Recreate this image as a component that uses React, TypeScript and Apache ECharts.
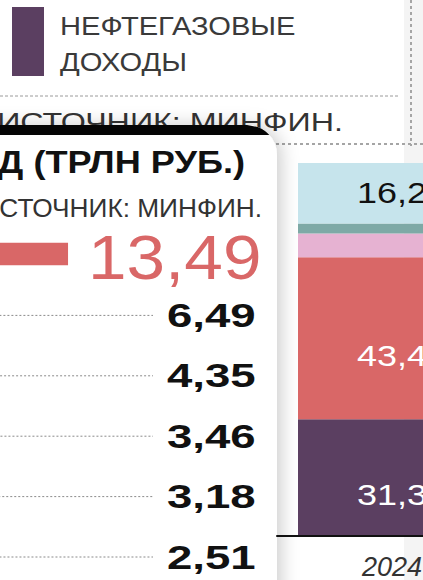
import React, { useEffect, useRef } from "react";
import * as echarts from "echarts";

// ---- data ----
const rowCategories = ["НДС", "НДПИ", "Налог на прибыль", "Ввозные пошлины", "НДД", "Акцизы"];
const rowValues = [13.49, 6.49, 4.35, 3.46, 3.18, 2.51];

const years = ["2024"];
const shareNames = [
  "НЕФТЕГАЗОВЫЕ ДОХОДЫ",
  "НАЛОГОВЫЕ ДОХОДЫ",
  "ПРОЧИЕ НАЛОГИ",
  "ПОШЛИНЫ",
  "НЕНАЛОГОВЫЕ ДОХОДЫ",
];
const shareValues = [31.3, 43.4, 6.4, 2.7, 16.2];

const legendTitleLines = ["НЕФТЕГАЗОВЫЕ", "ДОХОДЫ"];
const sourceText = "ИСТОЧНИК: МИНФИН.";
const cardSourceText = "СТОЧНИК: МИНФИН.";
const cardTitle = "Д (ТРЛН РУБ.)";

// ---- styles ----
const RED = "#d96767";
const PURPLE = "#5b3f61";
const rowColors = [RED, "#9a9a9a", "#9a9a9a", "#9a9a9a", "#9a9a9a", "#9a9a9a"];
const shareColors = [PURPLE, RED, "#e6b2d2", "#7ea9a6", "#c6e4ec"];
const shareLabelColors = ["#ffffff", "#ffffff", "#111111", "#111111", "#111111"];
const shareLabelOffsets = [17, 17, 0, 0, -1];
const FONT = "'Liberation Sans', Arial, sans-serif";

const fmt = (v: number, d: number) => v.toFixed(d).replace(".", ",");

export default function App() {
  const ref = useRef<HTMLDivElement>(null);

  useEffect(() => {
    document.body.style.margin = "0";
    if (!ref.current) return;
    const chart = echarts.init(ref.current, null, { renderer: "svg" });

    let acc = 0;
    const stackData = shareValues.map((v) => {
      const s = acc;
      acc += v;
      return [0, s, acc, v];
    });

    const option: any = {
      animation: false,
      backgroundColor: "#ffffff",
      grid: [
        { left: -230, top: 224.8, width: 331.4, height: 362.4, outerBoundsMode: "none", containLabel: false },
        { left: 277, top: 163, width: 230, height: 373, outerBoundsMode: "none", containLabel: false },
      ],
      xAxis: [
        { gridIndex: 0, type: "value", min: 0, max: 15, show: false },
        {
          gridIndex: 1,
          type: "category",
          data: years,
          z: 6,
          axisLine: { show: true, lineStyle: { color: "#111", width: 2 } },
          axisTick: { show: false },
          axisLabel: {
            margin: 17,
            fontSize: 27,
            fontStyle: "italic",
            color: "#333",
            fontFamily: FONT,
          },
        },
      ],
      yAxis: [
        { gridIndex: 0, type: "category", data: rowCategories, inverse: true, show: false },
        { gridIndex: 1, type: "value", min: 0, max: 100, show: false },
      ],
      series: [
        {
          type: "custom",
          name: "Доходы",
          xAxisIndex: 0,
          yAxisIndex: 0,
          z: 4,
          encode: { x: 0, y: 1 },
          data: rowValues.map((v, i) => [v, i]),
          renderItem: (params: any, api: any) => {
            const i = params.dataIndex;
            const v = api.value(0);
            const c0 = api.coord([0, api.value(1)]);
            const c1 = api.coord([v, api.value(1)]);
            const band = api.size([0, 1])[1];
            const y = c0[1];
            const h = band * 0.37;
            const children: any[] = [
              {
                type: "rect",
                shape: { x: c0[0], y: y - h / 2 - 1, width: c1[0] - c0[0], height: h },
                style: { fill: rowColors[i] },
              },
            ];
            if (i === 0) {
              children.push({
                type: "text",
                x: c1[0] + 20,
                y: y + 2,
                scaleX: 1.1,
                style: {
                  text: fmt(v, 2),
                  x: 0,
                  y: 0,
                  fill: RED,
                  font: `normal 63px ${FONT}`,
                  textAlign: "left",
                  textVerticalAlign: "middle",
                  align: "left",
                  verticalAlign: "middle",
                },
              });
            } else {
              const leaderEnd = 153;
              children.push({
                type: "line",
                shape: { x1: c1[0] + 6, y1: y, x2: leaderEnd, y2: y },
                style: { stroke: "#8a8a8a", lineWidth: 1, lineDash: [2, 2] },
              });
              children.push({
                type: "text",
                x: leaderEnd + 14,
                y: y,
                scaleX: 1.38,
                style: {
                  text: fmt(v, 2),
                  x: 0,
                  y: 0,
                  fill: "#111",
                  font: `bold 33px ${FONT}`,
                  textAlign: "left",
                  textVerticalAlign: "middle",
                  align: "left",
                  verticalAlign: "middle",
                },
              });
            }
            return { type: "group", children };
          },
        },
        {
          type: "custom",
          name: "Структура доходов",
          xAxisIndex: 1,
          yAxisIndex: 1,
          z: 2,
          encode: { x: 0, y: [1, 2] },
          data: stackData,
          renderItem: (params: any, api: any) => {
            const i = params.dataIndex;
            const base = api.coord([api.value(0), api.value(1)]);
            const top = api.coord([api.value(0), api.value(2)]);
            const w = 188;
            const v = api.value(3);
            const children: any[] = [
              {
                type: "rect",
                shape: { x: base[0] - w / 2, y: top[1], width: w, height: base[1] - top[1] },
                style: { fill: shareColors[i] },
              },
            ];
            if (v >= 10) {
              children.push({
                type: "text",
                x: base[0],
                y: (base[1] + top[1]) / 2 + shareLabelOffsets[i],
                scaleX: 1.2,
                style: {
                  text: fmt(v, 1),
                  x: 0,
                  y: 0,
                  fill: shareLabelColors[i],
                  font: `normal 30px ${FONT}`,
                  textAlign: "center",
                  textVerticalAlign: "middle",
                  align: "center",
                  verticalAlign: "middle",
                },
              });
            }
            return { type: "group", children };
          },
        },
      ],
      graphic: [
        // right light strip
        { type: "rect", z: 0, shape: { x: 404, y: 0, width: 19, height: 580 }, style: { fill: "#f4f4f4" } },
        // legend
        { type: "rect", z: 1, shape: { x: 12, y: 7, width: 32, height: 69 }, style: { fill: PURPLE } },
        {
          type: "text", z: 1, x: 60, y: 26, scaleX: 1.165,
          style: { text: legendTitleLines[0], x: 0, y: 0, fill: "#3a3a3a", font: `normal 25px ${FONT}`, textVerticalAlign: "middle", verticalAlign: "middle" },
        },
        {
          type: "text", z: 1, x: 60, y: 62, scaleX: 1.165,
          style: { text: legendTitleLines[1], x: 0, y: 0, fill: "#3a3a3a", font: `normal 25px ${FONT}`, textVerticalAlign: "middle", verticalAlign: "middle" },
        },
        // dotted rules
        { type: "line", z: 1, shape: { x1: 0, y1: 96, x2: 400, y2: 96 }, style: { stroke: "#9a9a9a", lineWidth: 1, lineDash: [3, 2] } },
        { type: "line", z: 1, shape: { x1: 411, y1: 0, x2: 411, y2: 146 }, style: { stroke: "#a5a5a5", lineWidth: 2, lineDash: [3, 3] } },
        { type: "line", z: 1, shape: { x1: 270, y1: 144, x2: 423, y2: 144 }, style: { stroke: "#a5a5a5", lineWidth: 2, lineDash: [3, 3] } },
        // background source text (behind card)
        {
          type: "text", z: 1, x: 343, y: 122, scaleX: 1.29,
          style: { text: sourceText, x: 0, y: 0, fill: "#333", font: `normal 25px ${FONT}`, textAlign: "right", align: "right", textVerticalAlign: "middle", verticalAlign: "middle" },
        },
        // card
        {
          type: "rect", z: 2,
          shape: { x: -30, y: 125, width: 307, height: 520, r: [0, 30, 0, 0] },
          style: { fill: "#ffffff", shadowBlur: 18, shadowColor: "rgba(0,0,0,0.2)", shadowOffsetX: 4, shadowOffsetY: 0 },
        },
        {
          type: "polygon", z: 3,
          shape: { points: [[-30, 125], [247, 125], [257.8, 127], [262, 129], [265, 131], [267.4, 133], [269.4, 135], [-30, 135]] },
          style: { fill: "#050505" },
        },
        {
          type: "text", z: 5, x: 245, y: 162, scaleX: 1.13,
          style: { text: cardTitle, x: 0, y: 0, fill: "#111", font: `bold 32px ${FONT}`, textAlign: "right", align: "right", textVerticalAlign: "middle", verticalAlign: "middle" },
        },
        {
          type: "text", z: 5, x: 262, y: 208, scaleX: 1.05,
          style: { text: cardSourceText, x: 0, y: 0, fill: "#333", font: `normal 25px ${FONT}`, textAlign: "right", align: "right", textVerticalAlign: "middle", verticalAlign: "middle" },
        },
      ],
    };

    chart.setOption(option);
    return () => chart.dispose();
  }, []);

  return <div ref={ref} style={{ width: 423, height: 580 }} />;
}
